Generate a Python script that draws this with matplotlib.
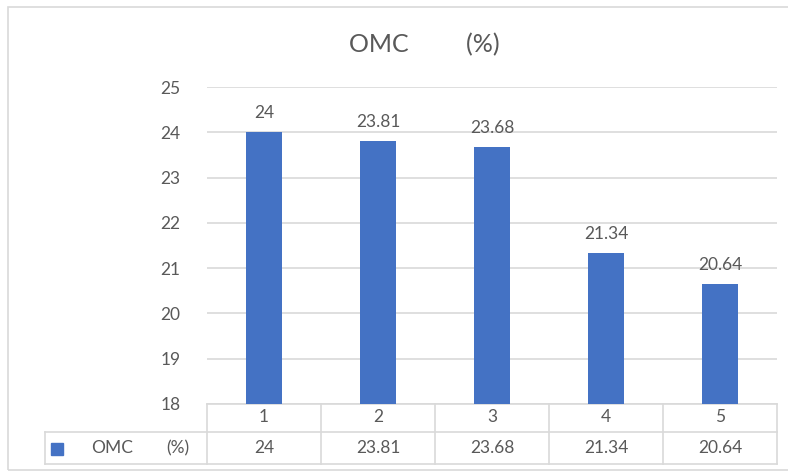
import matplotlib
matplotlib.use('Agg')
import matplotlib.pyplot as plt
import matplotlib.transforms as mtransforms
from matplotlib.patches import Rectangle

# data
categories = ['1', '2', '3', '4', '5']
omc_values = [24, 23.81, 23.68, 21.34, 20.64]
value_labels = ['24', '23.81', '23.68', '21.34', '20.64']
series_name = 'OMC         (%)'
y_ticks = [18, 19, 20, 21, 22, 23, 24, 25]

plt.rcParams['font.family'] = ['Lato', 'DejaVu Sans']

W, H = 788, 472
bar_color = '#4472C4'
text_color = '#595959'
line_color = '#D9D9D9'

fig = plt.figure(figsize=(W / 100, H / 100), dpi=100)

def fx(px):
    return px / W

def fy(py):
    return 1 - py / H

# outer chart frame (only top/left edges fall inside the image)
fig.patches.append(Rectangle((fx(8), fy(470)), fx(790) - fx(8), fy(7) - fy(470),
                             transform=fig.transFigure, fill=False,
                             edgecolor=line_color, linewidth=1.2))

ax = fig.add_axes([fx(207), fy(404), fx(777) - fx(207), fy(87) - fy(404)])
x = list(range(len(categories)))
ax.bar(x, omc_values, width=0.31, color=bar_color, zorder=3)
ax.set_xlim(-0.5, len(categories) - 0.5)
ax.set_ylim(18, 25)
ax.set_yticks(y_ticks)
ax.yaxis.grid(True, color=line_color, linewidth=1.2)
ax.set_axisbelow(True)
ax.tick_params(axis='y', length=0, pad=19, labelsize=12.5, labelcolor=text_color)
ax.set_xticks([])
for s in ax.spines.values():
    s.set_visible(False)

for xi, v, lab in zip(x, omc_values, value_labels):
    ax.annotate(lab, (xi, v), xytext=(0, 8), textcoords='offset points',
                ha='center', va='bottom', fontsize=12.5, color=text_color)

fig.text(fx(424), fy(45), series_name, ha='center', va='center',
         fontsize=18, color=text_color)

# data table under the plot
tr = mtransforms.blended_transform_factory(ax.transData, fig.transFigure)
row_top, row_mid, row_bot = fy(404), fy(432), fy(464)
bounds = [i - 0.5 for i in range(len(categories) + 1)]
kw = dict(color=line_color, linewidth=1.2, clip_on=False)
ax.plot([bounds[0], bounds[-1]], [row_top, row_top], transform=tr, **kw)
for b in bounds:
    ax.plot([b, b], [row_top, row_bot], transform=tr, **kw)
# rows spanning the legend cell
fig.add_artist(plt.Line2D([fx(45), fx(777)], [row_mid, row_mid], color=line_color, linewidth=1.2))
fig.add_artist(plt.Line2D([fx(45), fx(777)], [row_bot, row_bot], color=line_color, linewidth=1.2))
fig.add_artist(plt.Line2D([fx(45), fx(45)], [row_mid, row_bot], color=line_color, linewidth=1.2))

for xi, cat, lab in zip(x, categories, value_labels):
    ax.text(xi, fy(417), cat, transform=tr, ha='center', va='center',
            fontsize=12.5, color=text_color)
    ax.text(xi, fy(448), lab, transform=tr, ha='center', va='center',
            fontsize=12.5, color=text_color)

# legend key in the table
fig.patches.append(Rectangle((fx(51), fy(455)), fx(63) - fx(51), fy(443) - fy(455),
                             transform=fig.transFigure, color=bar_color))
fig.text(fx(91), fy(448), 'OMC', ha='left', va='center', fontsize=12.5, color=text_color)
fig.text(fx(166), fy(448), '(%)', ha='left', va='center', fontsize=12.5, color=text_color)

fig.savefig('out.png', dpi=100)
